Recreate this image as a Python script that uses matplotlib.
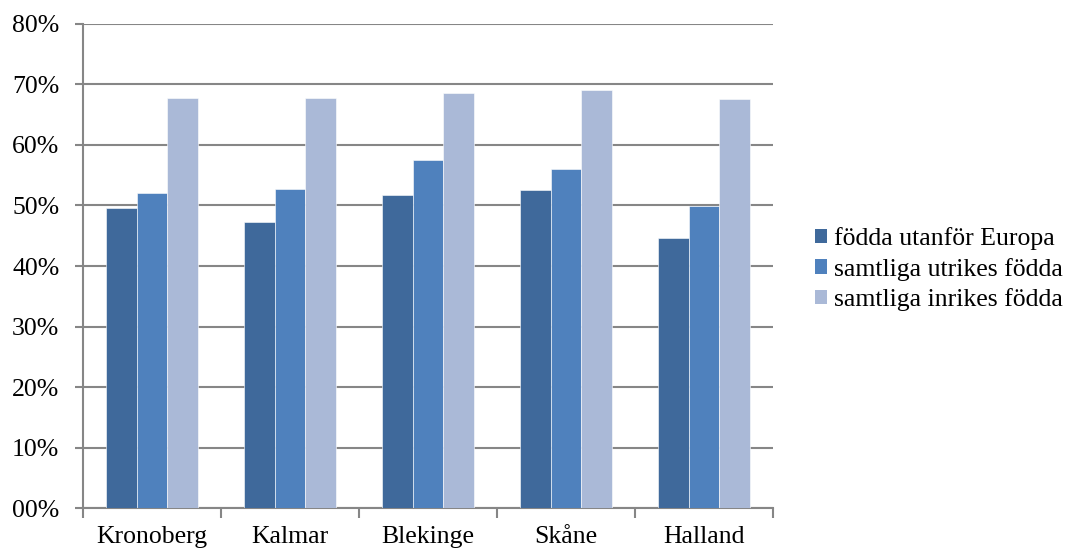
import matplotlib
matplotlib.use("Agg")
import matplotlib.pyplot as plt
import numpy as np
from matplotlib.patches import Patch

categories = ["Kronoberg", "Kalmar", "Blekinge", "Skåne", "Halland"]
series_names = ["födda utanför Europa", "samtliga utrikes födda", "samtliga inrikes födda"]
utanfor_europa = [49.5, 47.3, 51.7, 52.5, 44.7]
utrikes = [52.0, 52.7, 57.5, 56.1, 49.9]
inrikes = [67.8, 67.7, 68.5, 69.0, 67.5]
y_ticks = [0, 10, 20, 30, 40, 50, 60, 70, 80]
y_tick_labels = ["00%", "10%", "20%", "30%", "40%", "50%", "60%", "70%", "80%"]

colors = ["#3F699B", "#4F81BD", "#AAB9D7"]
plt.rcParams['font.family'] = ['Liberation Serif', 'DejaVu Serif']
FS = 18.5

fig = plt.figure(figsize=(10.73, 5.51), dpi=100)
ax = fig.add_axes([83/1073, 1 - 508.4/551, 690/1073, (508.4 - 23.7)/551])

x = np.arange(len(categories))
w = 0.22
for i, (vals, c) in enumerate(zip([utanfor_europa, utrikes, inrikes], colors)):
    ax.bar(x + (i - 1) * w, vals, width=w, color=c, edgecolor="white", linewidth=0.4, zorder=3)

ax.set_ylim(0, 80)
ax.set_xlim(-0.5, len(categories) - 0.5)
ax.set_yticks(y_ticks)
ax.set_yticklabels(y_tick_labels, fontsize=FS)
ax.yaxis.grid(True, color="#868686", linewidth=1.5, zorder=0)
ax.set_axisbelow(True)

ax.set_xticks(np.arange(-0.5, len(categories), 1.0))
ax.set_xticklabels([])
ax.set_xticks(x, minor=True)
ax.set_xticklabels(categories, minor=True, fontsize=FS)
ax.tick_params(axis="x", which="minor", length=0, pad=13)
ax.tick_params(axis="x", which="major", length=7, width=1.5, color="#868686", direction="out")
ax.tick_params(axis="y", length=6, width=1.5, color="#868686", direction="out", pad=11)

for s in ["top", "right"]:
    ax.spines[s].set_visible(False)
for s in ["left", "bottom"]:
    ax.spines[s].set_color("#868686")
    ax.spines[s].set_linewidth(1.5)

handles = [Patch(facecolor=c, edgecolor="none") for c in colors]
fig.legend(handles, series_names, loc="upper left", bbox_to_anchor=(815/1073, 1 - 227/551),
           frameon=False, fontsize=FS, handlelength=0.47, handleheight=0.47,
           handletextpad=0.25, labelspacing=0.3, borderaxespad=0, borderpad=0)

fig.savefig("out.png", dpi=100)
